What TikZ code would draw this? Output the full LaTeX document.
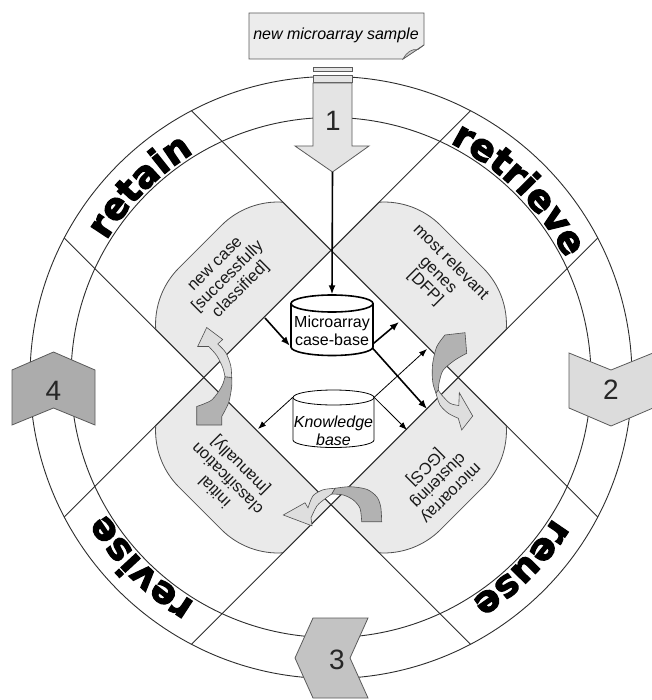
\documentclass[tikz,border=0pt]{standalone}
\usepackage{fontspec}
\setmainfont{Liberation Sans}
\newfontfamily\wordfont{DejaVu Sans}[BoldFeatures={FakeBold=3}]
\usetikzlibrary{arrows.meta,calc,decorations.text}
\definecolor{tabfill}{RGB}{234,234,234}
\definecolor{tabline}{RGB}{80,80,80}
\definecolor{linec}{RGB}{45,45,45}
\definecolor{chevline}{RGB}{90,90,90}
\definecolor{arrA}{RGB}{228,228,228}
\definecolor{arrB}{RGB}{220,220,220}
\definecolor{arrC}{RGB}{195,195,195}
\definecolor{arrD}{RGB}{172,172,172}
\definecolor{cdark}{RGB}{178,178,178}
\definecolor{clight}{RGB}{222,222,222}
\definecolor{docfill}{RGB}{236,236,236}
\newcommand\tabpath{(0,0) -- (180,0) -- (180,67.9) arc[start angle=41.4,end angle=90,radius=80] -- (60,95) arc[start angle=90,end angle=138.6,radius=80] -- cycle}
\newcommand\wordstyle{\wordfont\bfseries\fontsize{37}{37}\selectfont}
\begin{document}
\begin{tikzpicture}[x=1pt,y=-1pt,
  ring/.style={draw=linec,line width=0.9pt},
  tabstyle/.style={draw=tabline,fill=tabfill,line width=0.8pt},
  chev/.style={draw=chevline,line width=0.8pt},
  numlabel/.style={font=\fontsize{28}{28}\selectfont,text=black!85,inner sep=0pt},
  tabtext/.style={align=center,font=\fontsize{16.5}{18}\selectfont,inner sep=0pt,text=black!90},
  cyltext/.style={align=center,font=\fontsize{16}{18}\selectfont,inner sep=0pt},
  thickarr/.style={line width=1.6pt,-{Latex[length=9pt,width=7pt]}},
  thinarr/.style={line width=0.8pt,-{Latex[length=8pt,width=6pt]}},
  darkpart/.style={draw=tabline,fill=cdark,line width=0.6pt},
  lightpart/.style={draw=tabline,fill=clight,line width=0.6pt},
  ringword/.style={decorate,decoration={text along path,text align=center,text={|\wordstyle|#1}}}
]
\useasboundingbox (0,0) rectangle (651,700);
\coordinate (C) at (331,377.5);

% tabs
\begin{scope}[shift={(331,250.2)},rotate=-45,y=1pt] \draw[tabstyle] \tabpath; \end{scope}
\begin{scope}[shift={(331,250.2)},xscale=-1,rotate=-45,y=1pt] \draw[tabstyle] \tabpath; \end{scope}
\begin{scope}[shift={(331,504.8)},yscale=-1,rotate=-45,y=1pt] \draw[tabstyle] \tabpath; \end{scope}
\begin{scope}[shift={(331,504.8)},scale=-1,rotate=-45,y=1pt] \draw[tabstyle] \tabpath; \end{scope}

% ring and chords
\draw[ring] (C) circle[radius=301];
\draw[ring] (C) circle[radius=260];
\draw[ring] ($(C)+(-117.6:301)$) -- ($(C)+(27.6:301)$);
\draw[ring] ($(C)+(152.4:301)$) -- ($(C)+(-62.4:301)$);
\draw[ring] ($(C)+(62.4:301)$) -- ($(C)+(-152.4:301)$);
\draw[ring] ($(C)+(-27.6:301)$) -- ($(C)+(117.6:301)$);

% ring words
\path[ringword=retrieve] ($(C)+(-85:263)$) arc[start angle=-85,end angle=-5,radius=263];
\path[ringword=retain] ($(C)+(-175:263)$) arc[start angle=-175,end angle=-95,radius=263];
\path[ringword=revise] ($(C)+(95:263)$) arc[start angle=95,end angle=175,radius=263];
\path[ringword=reuse] ($(C)+(5:263)$) arc[start angle=5,end angle=85,radius=263];

% input document
\filldraw[draw=chevline,fill=docfill,line width=0.8pt] (249,13) -- (424,13) -- (424,45) -- (403,59) -- (249,59) -- cycle;
\filldraw[draw=chevline,fill=white!80!black,line width=0.6pt] (403,59) .. controls (407,52) and (411,49) .. (418,49.5) -- (424,45) -- cycle;
\node[font=\itshape\fontsize{16}{16}\selectfont,inner sep=0pt] (doc) at (336,35) {new microarray sample};

% arrow 1
\filldraw[chev,fill=arrA] (313,67.5) rectangle (352,71);
\filldraw[chev,fill=arrA] (313,75) rectangle (352,82);
\filldraw[chev,fill=arrA] (313,83) -- (352,83) -- (352,146) -- (369,146) -- (332.5,172) -- (295,146) -- (313,146) -- cycle;
\node[numlabel] (n1) at (333,121) {1};
\coordinate (tip1) at (332.5,172);

% chevrons 2,3,4
\filldraw[chev,fill=arrB] (569,353) -- (611,370) -- (653,353) -- (653,408) -- (611,426) -- (569,408) -- cycle;
\node[numlabel] (n2) at (611,390) {2};
\filldraw[chev,fill=arrC] (313,618) -- (368,618) -- (350,658) -- (368,698) -- (313,698) -- (295,658) -- cycle;
\node[numlabel] (n3) at (337,660) {3};
\filldraw[chev,fill=arrD] (12,370) -- (53.5,352) -- (95,370) -- (95,425) -- (53.5,408) -- (12,425) -- cycle;
\node[numlabel] (n4) at (53.5,391) {4};

% curved arrows
\begin{scope}[shift={(458.3,377.5)}]
  \filldraw[darkpart] (-13.3,-42.5) -- (6.7,-44.8) -- (8.4,-24.2) -- plot[smooth] coordinates {(8.4,-24.2) (-3.3,-17.5) (-15,-7.5) (-19,4.2) (-20,12.5)} -- (-22.3,15.8) -- plot[smooth] coordinates {(-22.3,15.8) (-25,7.5) (-26,-0.8) (-25.6,-14.2) (-21.6,-30.8) (-13.3,-42.5)} -- cycle;
  \filldraw[lightpart] (-22.3,15.8) -- plot[smooth] coordinates {(-22.3,15.8) (-18.3,27.5) (-10,35.8) (0,40.8)} -- (3.4,52.5) -- (14.4,38.5) -- (1,15.2) -- (0.5,28) -- plot[smooth] coordinates {(0.5,28) (-8.3,25.8) (-16.6,17.5) (-20,12.5)} -- cycle;
\end{scope}
\begin{scope}[shift={(203.7,377.5)}]
  \filldraw[darkpart] (28,0) -- plot[smooth] coordinates {(28,0) (28,9) (25,25) (18,39)} -- (18,47.5) -- (-7,47.5) -- (-7,29) -- plot[smooth] coordinates {(-7,29) (8,22.5) (18,9) (21.3,-0.8)} -- cycle;
  \filldraw[lightpart] (28,0) -- plot[smooth] coordinates {(28,0) (27,-12) (22,-25) (14,-33.5)} -- (19,-38) -- (3,-50) -- (-6,-31) -- (5,-31) -- plot[smooth] coordinates {(5,-31) (13,-22) (19,-10) (21.3,-0.8)} -- cycle;
\end{scope}
\begin{scope}[shift={(331,504.8)}]
  \filldraw[darkpart] (30.7,16.9) -- (50.7,16.9) -- plot[smooth] coordinates {(50.7,16.9) (49.7,1.9) (45.7,-8.1) (35.7,-15.5) (19,-18.1) (4,-16.5)} -- (0.7,-10.8) -- plot[smooth] coordinates {(0.7,-10.8) (12.3,-9.8) (22.3,-4.8) (29,3.5) (30.7,16.9)} -- cycle;
  \filldraw[lightpart] (4,-16.5) -- plot[smooth] coordinates {(4,-16.5) (-8,-15) (-18,-9) (-23,3)} -- (-26,-2) -- (-47.7,10.2) -- (-19,21) -- (-20,13) -- plot[smooth] coordinates {(-20,13) (-14,1) (-6,-6) (0.7,-10.8)} -- cycle;
\end{scope}

% tab texts
\node[tabtext,rotate=-45] (t1) at (438,275) {most relevant\\genes\\{}[DFP]};
\node[tabtext,rotate=45] (t2) at (229,278) {new case\\{}[successfully\\classified]};
\node[tabtext,rotate=-135] (t3) at (438,480) {microarray\\clustering\\{}[GCS]};
\node[tabtext,rotate=135] (t4) at (228,478) {initial\\classification\\{}[manually]};

% cylinders
\filldraw[draw=black,fill=white,line width=1.6pt] (291,303.5) -- (291,347) arc[start angle=180,end angle=0,x radius=41,y radius=8.5] -- (373,303.5) arc[start angle=0,end angle=-180,x radius=41,y radius=8.5] -- cycle;
\draw[line width=1.6pt] (291,303.5) arc[start angle=180,end angle=0,x radius=41,y radius=8.5];
\node[inner sep=0pt,minimum width=82pt,minimum height=52pt] (mcb) at (332,329.5) {};
\node[cyltext] (mcbt) at (332,331) {Microarray\\case-base};

\filldraw[draw=black,fill=white,line width=0.8pt] (293,397.5) -- (293,440) arc[start angle=180,end angle=0,x radius=40.5,y radius=7.5] -- (374,397.5) arc[start angle=0,end angle=-180,x radius=40.5,y radius=7.5] -- cycle;
\draw[line width=0.8pt] (293,397.5) arc[start angle=180,end angle=0,x radius=40.5,y radius=7.5];
\node[inner sep=0pt,minimum width=81pt,minimum height=50pt] (kb) at (333.5,422.5) {};
\node[cyltext,font=\itshape\fontsize{16}{18}\selectfont] (kbt) at (333.5,431) {Knowledge\\base};

% connectors
\coordinate (ulE) at (265,318);
\coordinate (urE1) at (399,322);
\coordinate (lrE1) at (427,409);
\coordinate (urE2) at (427,349);
\coordinate (lrE2) at (407,430);
\coordinate (llE) at (258,429);
\draw[thickarr] (tip1) -- ($(mcb.north)+(0,-9)$);
\draw[thickarr] (ulE) -- ($(mcb.south west)+(-1,-10)$);
\draw[thickarr] ($(mcb.south east)+(0,-12)$) -- (urE1);
\draw[thickarr] ($(mcb.south east)+(-1,-8)$) -- (lrE1);
\draw[thinarr] (kb.north east) -- (urE2);
\draw[thinarr] (kb.north east) -- (lrE2);
\draw[thinarr] (kb.north west) -- (llE);
\end{tikzpicture}
\end{document}
